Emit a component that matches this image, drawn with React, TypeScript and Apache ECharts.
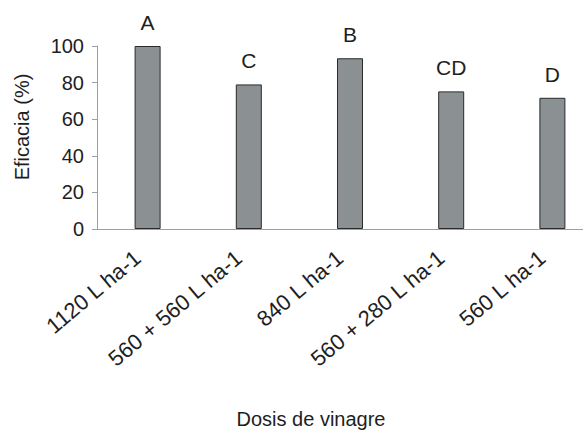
import React, { useEffect, useRef } from "react";
import * as echarts from "echarts";

const categories = ["1120 L ha-1", "560 + 560 L ha-1", "840 L ha-1", "560 + 280 L ha-1", "560 L ha-1"];
const efficacy = [100, 79, 93.3, 75.2, 71.7];
const letters = ["A", "C", "B", "CD", "D"];
const yTicks = { min: 0, max: 100, interval: 20 };
const yTitle = "Eficacia (%)";
const xTitle = "Dosis de vinagre";

const FONT = "Liberation Sans, Arial, Helvetica, sans-serif";
const TEXT = "#1e1e1e";
const AXIS = "#9aa0a3";

export default function App() {
  const ref = useRef<HTMLDivElement>(null);
  useEffect(() => {
    if (!ref.current) return;
    const chart = echarts.init(ref.current, undefined, { renderer: "svg" });
    chart.setOption({
      animation: false,
      backgroundColor: "#ffffff",
      textStyle: { fontFamily: FONT },
      grid: [
        { left: 97, top: 46, width: 506, height: 183 },
        { left: 87, top: 46, width: 506, height: 183 },
      ],
      xAxis: [
        {
          type: "category",
          gridIndex: 0,
          data: categories,
          axisLine: { show: true, lineStyle: { color: AXIS, width: 1 } },
          axisTick: { show: false },
          axisLabel: { show: false },
        },
        {
          type: "category",
          gridIndex: 1,
          data: categories,
          axisLine: { show: false },
          axisTick: { show: false },
          axisLabel: {
            show: true,
            rotate: 40,
            margin: 26,
            fontSize: 22,
            color: TEXT,
            fontFamily: FONT,
            interval: 0,
          },
        },
      ],
      yAxis: [
        {
          type: "value",
          gridIndex: 0,
          min: yTicks.min,
          max: yTicks.max,
          interval: yTicks.interval,
          axisLine: { show: true, lineStyle: { color: AXIS, width: 1 } },
          axisTick: { show: true, length: 5, lineStyle: { color: AXIS } },
          splitLine: { show: false },
          axisLabel: { fontSize: 20, color: TEXT, margin: 13, fontFamily: FONT },
        },
        { type: "value", gridIndex: 1, show: false, min: yTicks.min, max: yTicks.max },
      ],
      graphic: [
        {
          type: "text",
          x: 22,
          y: 127,
          rotation: Math.PI / 2,
          style: {
            text: yTitle,
            fontSize: 20,
            fill: TEXT,
            fontFamily: FONT,
            align: "center",
            verticalAlign: "middle",
          },
        },
        {
          type: "text",
          x: 311,
          y: 419,
          style: {
            text: xTitle,
            fontSize: 20,
            fill: TEXT,
            fontFamily: FONT,
            align: "center",
            verticalAlign: "middle",
          },
        },
      ],
      series: [
        {
          type: "bar",
          xAxisIndex: 0,
          yAxisIndex: 0,
          data: efficacy,
          barWidth: 26,
          itemStyle: { color: "#8b9093", borderColor: "#2a2a2a", borderWidth: 1 },
          label: {
            show: true,
            position: "top",
            distance: 13,
            fontSize: 21,
            color: TEXT,
            fontFamily: FONT,
            formatter: (p: any) => letters[p.dataIndex],
          },
        },
      ],
    });
    return () => chart.dispose();
  }, []);
  return (
    <div
      style={{
        position: "fixed",
        left: 0,
        top: 0,
        width: 583,
        height: 430,
        overflow: "hidden",
        background: "#fff",
      }}
    >
      <div ref={ref} style={{ width: 620, height: 430 }} />
    </div>
  );
}
